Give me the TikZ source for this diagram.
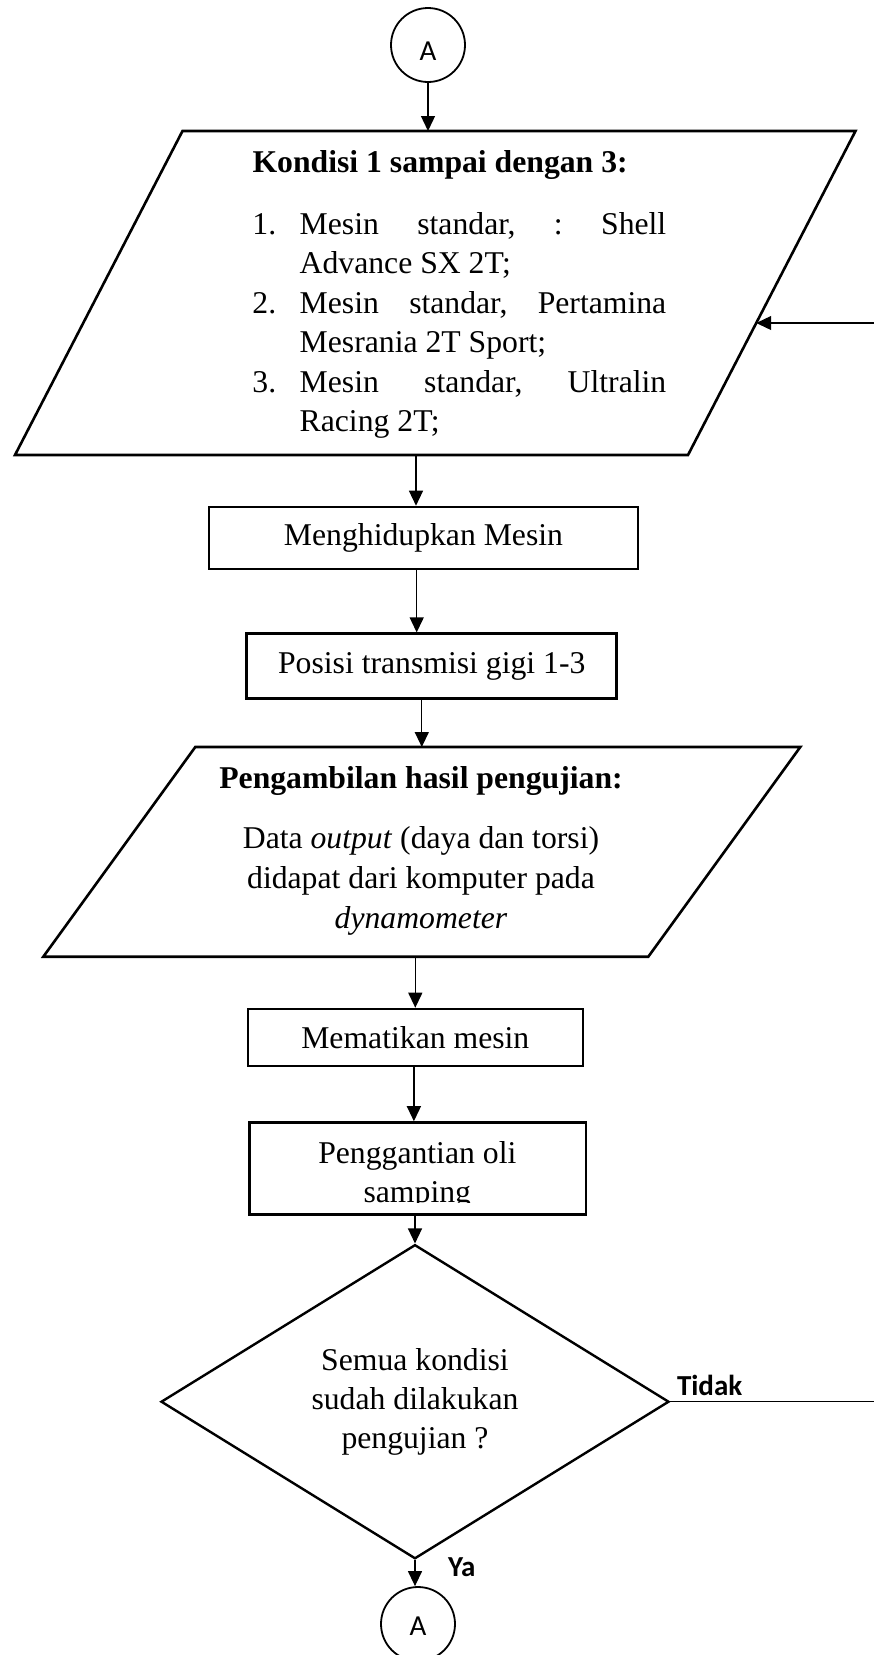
\documentclass[tikz,border=0pt]{standalone}
\usepackage{fontspec}
\setmainfont{Liberation Serif}
\newfontfamily\labelfont{Carlito}
\usetikzlibrary{shapes.geometric,arrows.meta,calc}

\newcommand\flowsize{\fontsize{31.7}{39.2}\selectfont}
\newcommand\tagsize{\fontsize{29}{34}\selectfont}

\tikzset{
  txt/.style={font=\flowsize, inner sep=0pt, outer sep=0pt},
  txtb/.style={font=\flowsize\bfseries, inner sep=0pt, outer sep=0pt},
  procbox/.style={draw, rectangle, line width=2.6pt, inner sep=0pt, font=\flowsize},
  iobase/.style={rectangle, inner sep=0pt, outer sep=0pt},
  ioline/.style={line width=2.6pt, line join=miter},
  decide/.style={draw, diamond, line width=2.4pt, inner sep=0pt, font=\flowsize, align=center},
  conn/.style={draw, circle, line width=1.8pt, inner sep=0pt, minimum size=74pt, font=\labelfont\tagsize},
  arr/.style={line width=1.3pt, -{Triangle[width=14pt,length=15pt]}},
  lbl/.style={font=\labelfont\bfseries\tagsize, inner sep=0pt, outer sep=0pt},
}

\begin{document}
\begin{tikzpicture}[x=1pt,y=-1pt]
\useasboundingbox (0,0) rectangle (874,1655);
\clip (0,0) rectangle (874,1655);

% connector at the top
\node[conn] (a1) at (428,45) {\raisebox{-15pt}[0pt][0pt]{A}};

% input: the three test conditions
\node[iobase, minimum width=673pt, minimum height=324pt] (p1) at (435.25,293) {};
\coordinate (p1tl) at ([xshift=83.75pt]p1.north west);
\coordinate (p1tr) at ([xshift=83.75pt]p1.north east);
\coordinate (p1br) at ([xshift=-83.75pt]p1.south east);
\coordinate (p1bl) at ([xshift=-83.75pt]p1.south west);
\draw[ioline] (p1tl) -- (p1tr) -- (p1br) -- (p1bl) -- cycle;
\coordinate (p1in) at ($(p1tr)!0.5926!(p1br)$);

\node[txtb, anchor=base west] (p1h) at (252.5,172) {Kondisi 1 sampai dengan 3:};
\node[txt, anchor=base west] (l1) at (252.4,234) {\makebox[47.3pt][l]{1.}\makebox[366.6pt][s]{Mesin\hfill standar,\hfill :\hfill Shell}};
\node[txt, anchor=base west] (l2) at (299.7,273.5) {Advance SX 2T;};
\node[txt, anchor=base west] (l3) at (252.4,313) {\makebox[47.3pt][l]{2.}\makebox[366.6pt][s]{Mesin\hfill standar,\hfill Pertamina}};
\node[txt, anchor=base west] (l4) at (299.7,352.5) {Mesrania 2T Sport;};
\node[txt, anchor=base west] (l5) at (252.4,392) {\makebox[47.3pt][l]{3.}\makebox[366.6pt][s]{Mesin\hfill standar,\hfill Ultralin}};
\node[txt, anchor=base west] (l6) at (299.7,431.5) {Racing 2T;};

% process steps
\node[procbox, minimum width=429pt, minimum height=62pt] (r1) at (423.5,538) {Menghidupkan Mesin};
\node[procbox, minimum width=370pt, minimum height=64.6pt] (r2) at (431.75,666) {Posisi transmisi gigi 1-3};

% input: reading the results
\node[iobase, minimum width=605pt, minimum height=209.7pt] (p2) at (421.8,851.85) {};
\coordinate (p2tl) at ([xshift=76pt]p2.north west);
\coordinate (p2tr) at ([xshift=76pt]p2.north east);
\coordinate (p2br) at ([xshift=-76pt]p2.south east);
\coordinate (p2bl) at ([xshift=-76pt]p2.south west);
\draw[ioline] (p2tl) -- (p2tr) -- (p2br) -- (p2bl) -- cycle;

\node[txtb, anchor=base] (p2h) at (421,788) {Pengambilan hasil pengujian:};
\node[txt, anchor=base] (m1) at (421,848) {Data \textit{output} (daya dan torsi)};
\node[txt, anchor=base] (m2) at (421,888) {didapat dari komputer pada};
\node[txt, anchor=base] (m3) at (421,928) {\textit{dynamometer}};

\node[procbox, minimum width=335pt, minimum height=57pt] (r3) at (415.3,1037.5) {Mematikan mesin};
\node[procbox, minimum width=336.6pt, minimum height=92pt] (r4) at (417.7,1168.5) {};
\begin{scope}
  \clip ([xshift=3pt]r4.north west) rectangle ([xshift=-3pt,yshift=13pt]r4.south east);
  \node[txt, anchor=base] (r4a) at (417.3,1163.5) {Penggantian oli};
  \node[txt, anchor=base] (r4b) at (417.3,1202) {samping};
\end{scope}

% decision
\node[decide, minimum width=508pt, minimum height=284pt] (d1) at (415,1401.7) {Semua kondisi\\sudah dilakukan\\pengujian ?};

% connector at the bottom
\node[conn] (a2) at (418,1624) {\raisebox{-11.5pt}[0pt][0pt]{A}};

% flow lines
\draw[arr] (a1.south) -- (a1.south |- p1.north);
\draw[arr] ([xshift=-7.5pt]r1.north |- p1.south) -- ([xshift=-7.5pt]r1.north);
\draw[arr] ([xshift=-6.8pt]r1.south) -- ([xshift=-6.8pt]r1.south |- r2.north);
\draw[arr] (p2.north |- r2.south) -- (p2.north);
\draw[arr] (r3.north |- p2.south) -- (r3.north);
\draw[arr] ([xshift=-1.4pt]r3.south) -- ([xshift=-1.4pt]r3.south |- r4.north);
\draw[arr] (d1.north |- r4.south) -- (d1.north);
\draw[arr] (d1.south) -- (d1.south |- a2.north);

% loop back when not all conditions are done
\coordinate (rim) at (890,0);
\draw[arr] (d1.east) -- (d1.east -| rim) |- (p1in);

\node[lbl, anchor=base west] (no) at (677,1395) {Tidak};
\node[lbl, anchor=base west] (yes) at (448,1576.5) {Ya};
\end{tikzpicture}
\end{document}
